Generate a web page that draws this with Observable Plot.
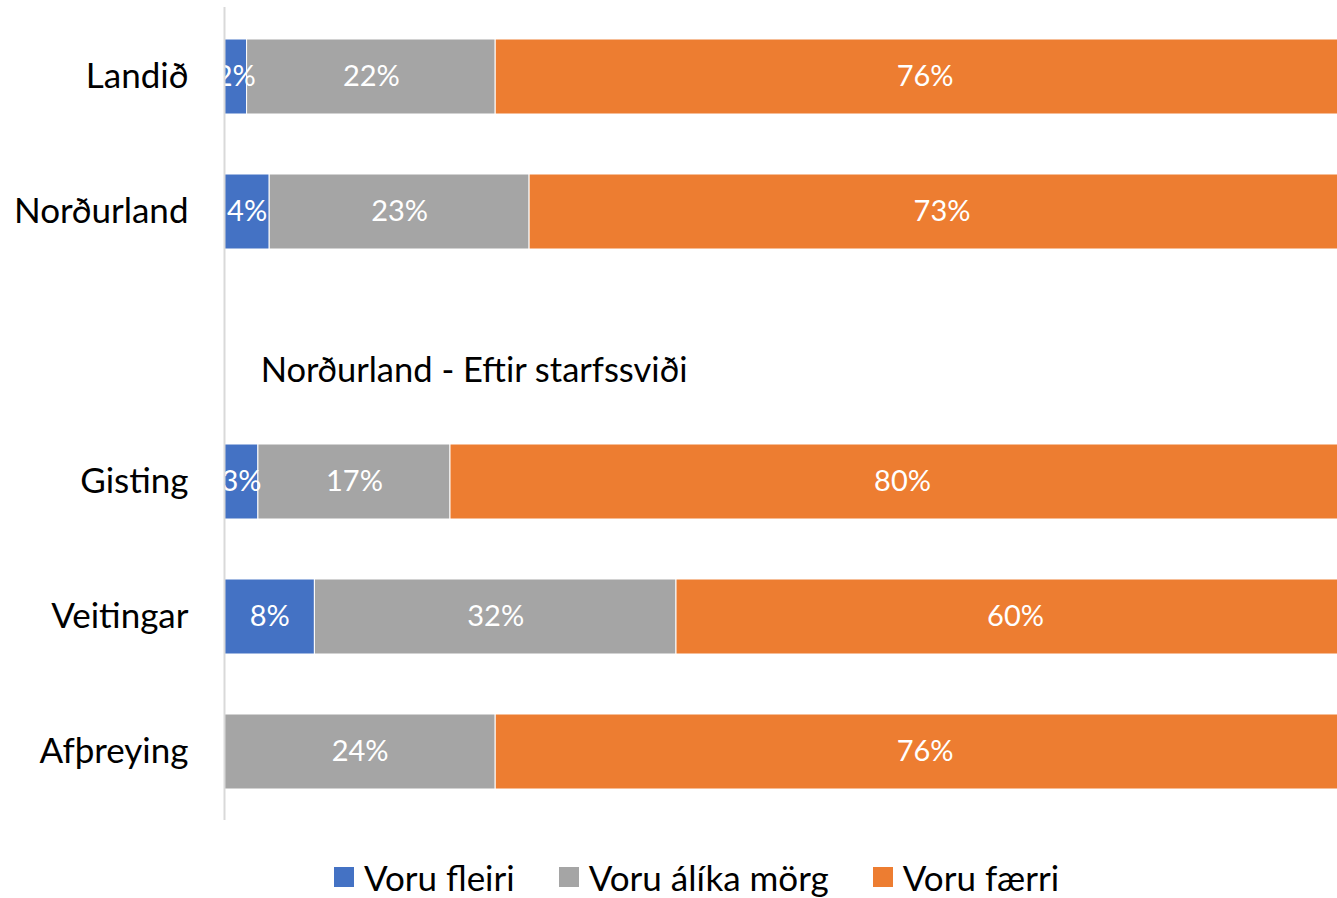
<!DOCTYPE html>
<html>
<head>
<meta charset="utf-8">
<script src="https://cdn.jsdelivr.net/npm/d3@7"></script>
<script src="https://cdn.jsdelivr.net/npm/@observablehq/plot@0.6"></script>
<style>
  html, body { margin: 0; padding: 0; background: #fff; overflow: hidden; }
  body { width: 1337px; height: 898px; font-family: Lato, "Open Sans", sans-serif; }
  #chart { width: 1337px; overflow: hidden; }
  #legend { display: flex; justify-content: center; align-items: center; padding-left: 56px; padding-top: 18px; font-size: 35px; line-height: 38px; color: #000; }
  .item { display: flex; align-items: center; margin: 0 22px; }
  .sw { width: 20px; height: 20px; margin-right: 10px; }
</style>
</head>
<body>
<div id="chart"></div>
<div id="legend"></div>
<script>
const categories = ["Landið", "Norðurland", "", "Gisting", "Veitingar", "Afþreying"];
const series = ["Voru fleiri", "Voru álíka mörg", "Voru færri"];
const colors = ["#4472C4", "#A5A5A5", "#ED7D31"];
const fleiri = [2, 4, null, 3, 8, 0];
const alika = [22, 23, null, 17, 32, 24];
const faerri = [76, 73, null, 80, 60, 76];
const sectionLabel = "Norðurland - Eftir starfssviði";
const sectionRow = "";

const seriesValues = [fleiri, alika, faerri];
const rows = [];
categories.forEach((c, i) => {
  series.forEach((s, j) => {
    const v = seriesValues[j][i];
    if (v != null) rows.push({cat: c, series: s, value: v});
  });
});

const chart = Plot.plot({
  width: 1337,
  height: 840,
  marginLeft: 224,
  marginRight: 0,
  marginTop: 7,
  marginBottom: 20,
  style: {fontFamily: "Lato, 'Open Sans', sans-serif", fontSize: "35px", color: "#000", display: "block", overflow: "hidden"},
  x: {domain: [0, 100], range: [224, 1354], axis: null},
  y: {domain: categories, paddingInner: 0.447, paddingOuter: 0.2235, label: null, tickSize: 0, tickPadding: 36, tickFormat: d => d},
  color: {domain: series, range: colors},
  marks: [
    Plot.barX(rows, Plot.stackX({x: "value", y: "cat", fill: "series", order: series, stroke: "white", strokeWidth: 1})),
    Plot.text(rows.filter(d => d.value > 0), Plot.stackX({x: "value", y: "cat", z: "series", order: series, text: d => d.value + "%", fill: "white", fontSize: 29})),
    Plot.ruleX([0], {stroke: "#d9d9d9", strokeWidth: 2}),
    Plot.text([sectionLabel], {x: 3.2, y: [sectionRow], text: d => d, textAnchor: "start", dy: 24, fill: "black", fontSize: 34.5}),
    Plot.axisY({tickSize: 0, tickPadding: 36, fontSize: 35, label: null})
  ]
});
document.getElementById("chart").appendChild(chart);

const legend = document.getElementById("legend");
series.forEach((s, i) => {
  const it = document.createElement("div");
  it.className = "item";
  const sw = document.createElement("div");
  sw.className = "sw";
  sw.style.background = colors[i];
  const t = document.createElement("span");
  t.textContent = s;
  it.appendChild(sw); it.appendChild(t);
  legend.appendChild(it);
});
</script>
</body>
</html>
